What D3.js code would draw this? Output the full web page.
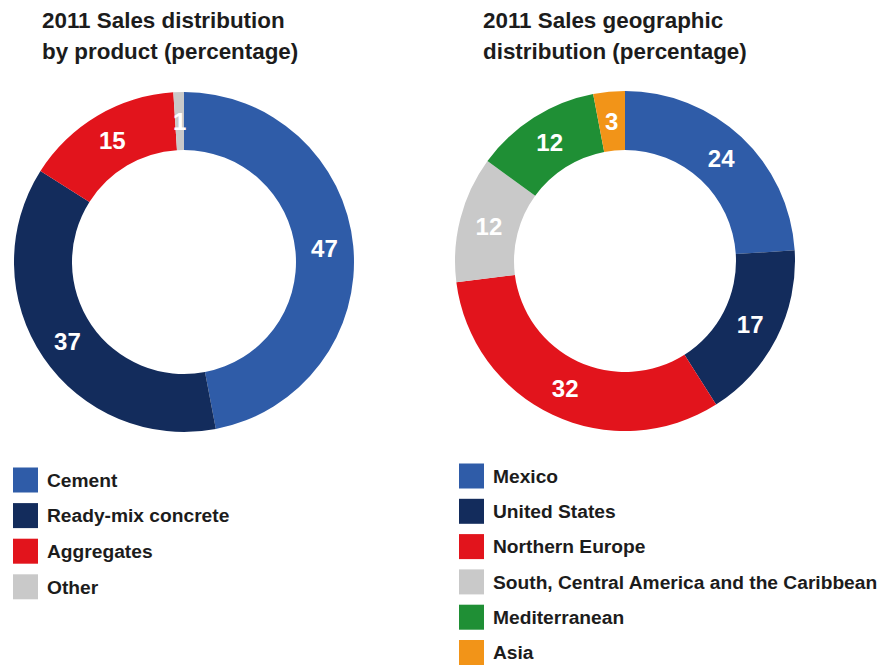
<!DOCTYPE html>
<html>
<head>
<meta charset="utf-8">
<script src="https://cdn.jsdelivr.net/npm/d3@7"></script>
<style>
  html, body { margin: 0; padding: 0; background: #fff; }
  svg { display: block; font-family: "Liberation Sans", Arial, sans-serif; }
</style>
</head>
<body>
<svg id="chart" width="881" height="666"></svg>
<script>
// 产品销售分布
const productLabels = ['Cement', 'Ready-mix concrete', 'Aggregates', 'Other'];
const productValues = [47, 37, 15, 1];
const productColors = ['#2F5CA8', '#132C5C', '#E2141C', '#C9C9C9'];
const productTitle = ['2011 Sales distribution', 'by product (percentage)'];

// 地区销售分布
const regionLabels = ['Mexico', 'United States', 'Northern Europe', 'South, Central America and the Caribbean', 'Mediterranean', 'Asia'];
const regionValues = [24, 17, 32, 12, 12, 3];
const regionColors = ['#2F5CA8', '#132C5C', '#E2141C', '#C9C9C9', '#1F8F35', '#F29418'];
const regionTitle = ['2011 Sales geographic', 'distribution (percentage)'];

const svg = d3.select('#chart');
const ink = '#1c1c1c';

function drawPanel(opt) {
  const g = svg.append('g');
  // 标题
  opt.title.forEach((t, i) => {
    g.append('text').attr('x', opt.titleX).attr('y', 28 + i * 31)
      .attr('font-size', 22.4).attr('font-weight', 'bold').attr('fill', ink)
      .text(t);
  });

  // 环形图
  const data = opt.labels.map((l, i) => ({ label: l, value: opt.values[i], color: opt.colors[i] }));
  const pie = d3.pie().value((d) => d.value).sort(null);
  const arc = d3.arc().innerRadius(opt.r0).outerRadius(opt.r1);
  const ring = g.append('g').attr('transform', `translate(${opt.cx},${opt.cy})`);
  const arcs = pie(data);
  ring.selectAll('path').data(arcs).enter().append('path')
    .attr('d', arc).attr('fill', (d) => d.data.color);
  ring.selectAll('text').data(arcs).enter().append('text')
    .attr('transform', (d) => `translate(${arc.centroid(d)})`)
    .attr('text-anchor', 'middle').attr('dy', '0.36em')
    .attr('font-size', 24).attr('font-weight', 'bold').attr('fill', '#fff')
    .text((d) => d.data.value);

  // 图例
  const lg = g.append('g').attr('transform', `translate(${opt.legendX},${opt.legendY})`);
  data.forEach((d, i) => {
    const row = lg.append('g').attr('transform', `translate(0,${i * opt.legendStep})`);
    row.append('rect').attr('x', 0).attr('y', -12.5).attr('width', 25).attr('height', 25).attr('fill', d.color);
    row.append('text').attr('x', 34).attr('y', 0).attr('dy', '0.35em')
      .attr('font-size', 19.2).attr('font-weight', 'bold').attr('fill', ink)
      .text(d.label);
  });
}

drawPanel({
  title: productTitle, titleX: 42,
  labels: productLabels, values: productValues, colors: productColors,
  cx: 184, cy: 262, r0: 112, r1: 170,
  legendX: 13, legendY: 480, legendStep: 35.6,
});

drawPanel({
  title: regionTitle, titleX: 483,
  labels: regionLabels, values: regionValues, colors: regionColors,
  cx: 625, cy: 261, r0: 111, r1: 170,
  legendX: 459, legendY: 476, legendStep: 35.3,
});
</script>
</body>
</html>
